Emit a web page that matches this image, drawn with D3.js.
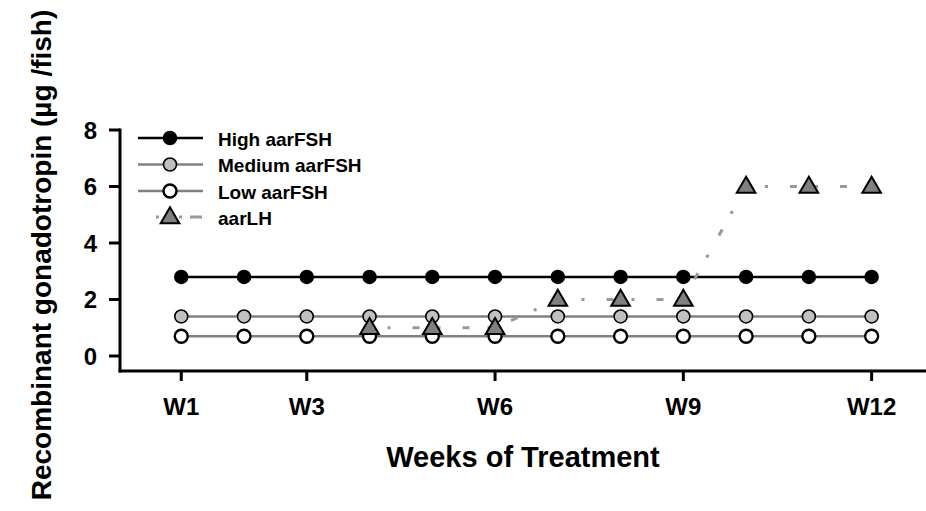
<!DOCTYPE html>
<html>
<head>
<meta charset="utf-8">
<script src="https://cdn.jsdelivr.net/npm/d3@7"></script>
<style>
  body { margin: 0; background: #fff; }
  text { font-family: "Liberation Sans", Arial, sans-serif; font-weight: bold; fill: #000; }
</style>
</head>
<body>
<div id="chart"></div>
<script>
//************* data ***************/
var weeks = [1, 2, 3, 4, 5, 6, 7, 8, 9, 10, 11, 12];
var highFSH = [2.8, 2.8, 2.8, 2.8, 2.8, 2.8, 2.8, 2.8, 2.8, 2.8, 2.8, 2.8];
var mediumFSH = [1.4, 1.4, 1.4, 1.4, 1.4, 1.4, 1.4, 1.4, 1.4, 1.4, 1.4, 1.4];
var lowFSH = [0.7, 0.7, 0.7, 0.7, 0.7, 0.7, 0.7, 0.7, 0.7, 0.7, 0.7, 0.7];
var lhWeeks = [4, 5, 6, 7, 8, 9, 10, 11, 12];
var aarLH = [1, 1, 1, 2, 2, 2, 6, 6, 6];
var xTicks = [1, 3, 6, 9, 12];
var xTickLabels = ["W1", "W3", "W6", "W9", "W12"];
var yTicks = [0, 2, 4, 6, 8];
var seriesNames = ["High aarFSH", "Medium aarFSH", "Low aarFSH", "aarLH"];

//************* setup svg ***************/
var width = 926, height = 511;
var svg = d3.select("#chart").append("svg")
    .attr("width", width)
    .attr("height", height);

//************* scales ***************/
var x = d3.scaleLinear().domain([0, 12.5]).range([118.5, 903]);
var y = d3.scaleLinear().domain([0, 8]).range([356, 130]);
var axisY = 371;

//***************** axes *******************/
// y axis line, down to the x axis
svg.append("line")
    .attr("x1", 120).attr("x2", 120)
    .attr("y1", y(8) - 1.5).attr("y2", axisY + 1.5)
    .attr("stroke", "#000").attr("stroke-width", 3);

svg.selectAll(".ytick").data(yTicks).enter().append("line")
    .attr("x1", 109).attr("x2", 120)
    .attr("y1", function(d){ return y(d); })
    .attr("y2", function(d){ return y(d); })
    .attr("stroke", "#000").attr("stroke-width", 3);

svg.selectAll(".ylab").data(yTicks).enter().append("text")
    .attr("x", 97)
    .attr("y", function(d){ return y(d) + 8.5; })
    .attr("text-anchor", "end")
    .attr("font-size", "24px")
    .text(function(d){ return d; });

// x axis
svg.append("line")
    .attr("x1", 118.5).attr("x2", 926)
    .attr("y1", axisY).attr("y2", axisY)
    .attr("stroke", "#000").attr("stroke-width", 3);

svg.selectAll(".xtick").data(xTicks).enter().append("line")
    .attr("x1", function(d){ return x(d); })
    .attr("x2", function(d){ return x(d); })
    .attr("y1", axisY).attr("y2", axisY + 10)
    .attr("stroke", "#000").attr("stroke-width", 3);

svg.selectAll(".xlab").data(xTicks).enter().append("text")
    .attr("x", function(d){ return x(d); })
    .attr("y", 415)
    .attr("text-anchor", "middle")
    .attr("font-size", "24px")
    .text(function(d, i){ return xTickLabels[i]; });

//************* labels ***************/
svg.append("text")
    .attr("x", 523)
    .attr("y", 467)
    .attr("text-anchor", "middle")
    .attr("font-size", "29px")
    .text("Weeks of Treatment");

svg.append("text")
    .attr("transform", "translate(51,255) rotate(-90)")
    .attr("text-anchor", "middle")
    .attr("font-size", "28px")
    .text("Recombinant gonadotropin (\u00b5g /fish)");

//************* lines ***************/
var line = d3.line()
    .x(function(d){ return x(d[0]); })
    .y(function(d){ return y(d[1]); });

function pairs(xs, ys) { return xs.map(function(d, i){ return [d, ys[i]]; }); }

svg.append("path").datum(pairs(weeks, lowFSH))
    .attr("d", line).attr("fill", "none")
    .attr("stroke", "#808080").attr("stroke-width", 2.5);
svg.append("path").datum(pairs(weeks, mediumFSH))
    .attr("d", line).attr("fill", "none")
    .attr("stroke", "#808080").attr("stroke-width", 2.5);
svg.append("path").datum(pairs(weeks, highFSH))
    .attr("d", line).attr("fill", "none")
    .attr("stroke", "#000").attr("stroke-width", 2.5);
svg.append("path").datum(pairs(lhWeeks, aarLH))
    .attr("d", line).attr("fill", "none")
    .attr("stroke", "#999").attr("stroke-width", 3)
    .attr("stroke-dasharray", "3,22,7,18")
    .attr("stroke-dashoffset", -18);

//************* markers ***************/
var tri = d3.symbol().type(d3.symbolTriangle).size(150);

function circles(data, fill, sw) {
  svg.append("g").selectAll("circle").data(data).enter().append("circle")
      .attr("cx", function(d){ return x(d[0]); })
      .attr("cy", function(d){ return y(d[1]); })
      .attr("r", 6.5)
      .attr("fill", fill)
      .attr("stroke", "#000").attr("stroke-width", sw);
}
circles(pairs(weeks, highFSH), "#000", 1.5);
circles(pairs(weeks, mediumFSH), "#c0c0c0", 1.6);
circles(pairs(weeks, lowFSH), "#fff", 2.4);

svg.append("g").selectAll("path").data(pairs(lhWeeks, aarLH)).enter().append("path")
    .attr("d", tri)
    .attr("transform", function(d){ return "translate(" + x(d[0]) + "," + (y(d[1]) + 1) + ")"; })
    .attr("fill", "#808080")
    .attr("stroke", "#000").attr("stroke-width", 2);

//************* legend ***************/
var legendRows = [138, 164.5, 191, 217];
var legendStyle = [
  {stroke: "#000", fill: "#000", sw: 1.5},
  {stroke: "#808080", fill: "#c0c0c0", sw: 1.6},
  {stroke: "#808080", fill: "#fff", sw: 2.4},
  {stroke: "#999", fill: "#808080", sw: 2}
];

seriesNames.forEach(function(name, i){
  var row = svg.append("g").attr("transform", "translate(0," + legendRows[i] + ")");
  var s = legendStyle[i];
  if (i < 3) {
    row.append("line").attr("x1", 138).attr("x2", 203)
        .attr("stroke", s.stroke).attr("stroke-width", 2.5);
    row.append("circle").attr("cx", 170).attr("r", 6.5)
        .attr("fill", s.fill).attr("stroke", "#000").attr("stroke-width", s.sw);
  } else {
    row.append("line").attr("x1", 156).attr("x2", 203)
        .attr("stroke", s.stroke).attr("stroke-width", 3)
        .attr("stroke-dasharray", "3,20,3,8,12");
    row.append("path").attr("d", tri)
        .attr("transform", "translate(170,1)")
        .attr("fill", s.fill).attr("stroke", "#000").attr("stroke-width", s.sw);
  }
  row.append("text")
      .attr("x", 218).attr("y", 7.5)
      .attr("font-size", "19px")
      .text(name);
});
</script>
</body>
</html>
